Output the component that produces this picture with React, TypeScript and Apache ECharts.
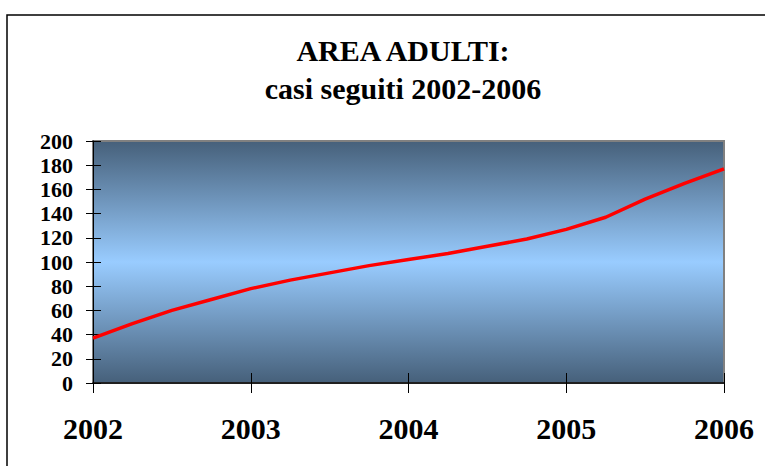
import React, { useEffect, useRef } from "react";
import * as echarts from "echarts";

const titleLines = ["AREA ADULTI:", "casi seguiti 2002-2006"];
const periods = [
  "2002", "2002 T2", "2002 T3", "2002 T4",
  "2003", "2003 T2", "2003 T3", "2003 T4",
  "2004", "2004 T2", "2004 T3", "2004 T4",
  "2005", "2005 T2", "2005 T3", "2005 T4",
  "2006",
];
const casiSeguiti = [37, 49, 60, 69, 78, 85, 91, 97, 102, 107, 113, 119, 127, 137, 152, 165, 177];
const yMin = 0;
const yMax = 200;
const yStep = 20;

const serif = "Liberation Serif";

export default function App() {
  const ref = useRef<HTMLDivElement>(null);
  useEffect(() => {
    if (!ref.current) return;
    const chart = echarts.init(ref.current, null, { renderer: "svg" });
    const plotGradient = new echarts.graphic.LinearGradient(0, 0, 0, 1, [
      { offset: 0, color: "#46607a" },
      { offset: 0.5, color: "#99ccff" },
      { offset: 1, color: "#46607a" },
    ]);
    chart.setOption({
      animation: false,
      backgroundColor: "#ffffff",
      title: {
        text: titleLines.join("\n"),
        left: 398,
        top: 26,
        textAlign: "center",
        textStyle: {
          fontFamily: serif,
          fontWeight: "bold",
          fontSize: 30,
          lineHeight: 38,
          color: "#000000",
        },
      },
      graphic: [
        {
          type: "rect",
          shape: { x: 7, y: 15, width: 800, height: 500 },
          style: { fill: "none", stroke: "#000000", lineWidth: 1.5 },
          silent: true,
        },
      ],
      grid: {
        left: 93,
        right: 41,
        top: 141,
        bottom: 83,
        show: true,
        backgroundColor: plotGradient,
        borderColor: "#808080",
        borderWidth: 2,
      },
      xAxis: [
        {
          type: "category",
          data: periods,
          position: "bottom",
          boundaryGap: false,
          axisLine: { show: true, lineStyle: { color: "#000000", width: 1.5 } },
          axisTick: {
            show: true,
            interval: 3,
            inside: false,
            length: 10,
            lineStyle: { color: "#000000", width: 1 },
          },
          axisLabel: {
            interval: 3,
            margin: 30,
            fontFamily: serif,
            fontWeight: "bold",
            fontSize: 30,
            color: "#000000",
          },
          splitLine: { show: false },
        },
        {
          type: "category",
          data: periods,
          position: "bottom",
          offset: 0,
          boundaryGap: false,
          axisLine: { show: false },
          axisTick: {
            show: true,
            interval: 3,
            inside: true,
            length: 10,
            lineStyle: { color: "#000000", width: 1 },
          },
          axisLabel: { show: false },
          splitLine: { show: false },
        },
      ],
      yAxis: [
        {
          type: "value",
          min: yMin,
          max: yMax,
          interval: yStep,
          position: "left",
          axisLine: { show: true, lineStyle: { color: "#000000", width: 1 } },
          axisTick: { show: true, inside: false, length: 7, lineStyle: { color: "#000000" } },
          axisLabel: {
            margin: 20,
            fontFamily: serif,
            fontWeight: "bold",
            fontSize: 22,
            color: "#000000",
          },
          splitLine: { show: false },
        },
        {
          type: "value",
          min: yMin,
          max: yMax,
          interval: yStep,
          position: "left",
          offset: 0,
          axisLine: { show: false },
          axisTick: { show: true, inside: true, length: 8, lineStyle: { color: "#000000" } },
          axisLabel: { show: false },
          splitLine: { show: false },
        },
      ],
      series: [
        {
          type: "line",
          name: "Casi seguiti",
          data: casiSeguiti,
          xAxisIndex: 0,
          yAxisIndex: 0,
          showSymbol: false,
          symbol: "none",
          lineStyle: { color: "#ff0000", width: 3.5 },
          z: 5,
        },
      ],
    });
    return () => chart.dispose();
  }, []);
  return (
    <div
      ref={ref}
      style={{ position: "fixed", left: 0, top: 0, width: 765, height: 466 }}
    />
  );
}
